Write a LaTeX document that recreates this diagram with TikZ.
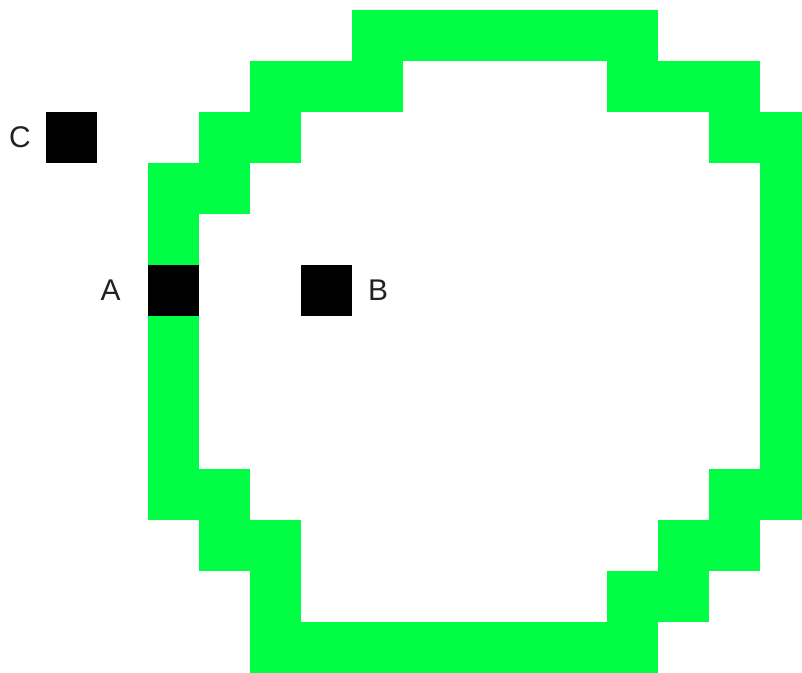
\documentclass[tikz,border=0pt]{standalone}
\usepackage{fontspec}
\setmainfont{Liberation Sans}
\usetikzlibrary{positioning}
\definecolor{wallgreen}{RGB}{0,255,68}
\definecolor{tagink}{RGB}{34,34,34}

\begin{document}
\begin{tikzpicture}[
      cellbox/.style={fill=black, minimum size=1cm, inner sep=0pt, outer sep=0pt},
      celltag/.style={inner sep=0pt, text=tagink, font=\fontsize{16.7}{20}\selectfont}
    ]
      \useasboundingbox (0,0) rectangle (802/51,-673/51);
      \clip (0,0) rectangle (802/51,-673/51);
      \begin{scope}[shift={(-5/51,-10/51)}]
        % green ring, one cell at a time (column/row)
        \foreach \c/\r in {7/0,8/0,9/0,10/0,11/0,12/0,
            5/1,6/1,7/1,12/1,13/1,14/1,
            4/2,5/2,14/2,15/2,
            3/3,4/3,15/3,
            3/4,15/4,
            15/5,
            3/6,15/6,
            3/7,15/7,
            3/8,15/8,
            3/9,4/9,14/9,15/9,
            4/10,5/10,13/10,14/10,
            5/11,12/11,13/11,
            5/12,6/12,7/12,8/12,9/12,10/12,11/12,12/12}
          \fill[wallgreen] (\c,-\r) rectangle ++(1,-1);

        % marked cells
        \node[cellbox] (A) at (3.5,-5.5) {};
        \node[cellbox] (B) at (6.5,-5.5) {};
        \node[cellbox] (C) at (1.5,-2.5) {};

        % labels
        \node[celltag, left=0.53cm of A] (tagA) {A};
        \node[celltag, right=0.31cm of B] (tagB) {B};
        \node[celltag, left=0.29cm of C] (tagC) {C};
      \end{scope}
    \end{tikzpicture}
\end{document}
